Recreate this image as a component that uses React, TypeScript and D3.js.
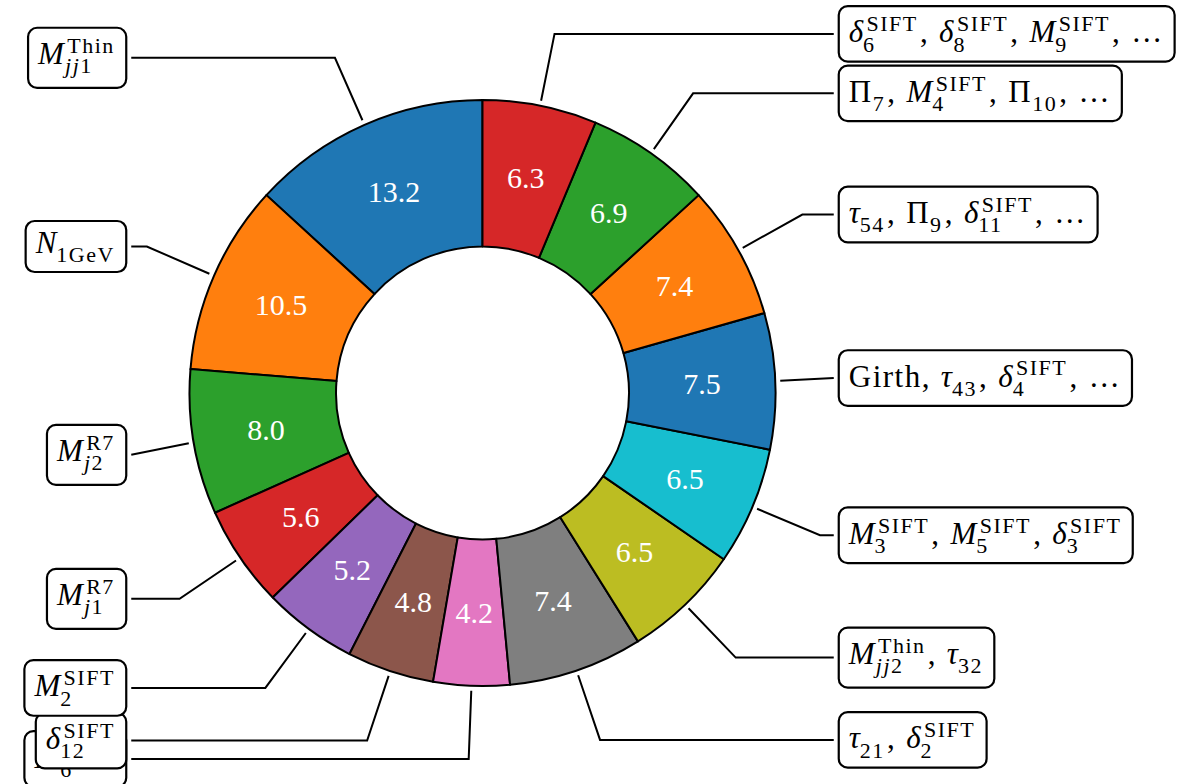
import React, { useEffect, useRef } from "react";
import * as d3 from "d3";

// Wedge values (percent), matplotlib order: counterclockwise from 12 o'clock
const values = [13.2, 10.5, 8.0, 5.6, 5.2, 4.8, 4.2, 7.4, 6.5, 6.5, 7.5, 7.4, 6.9, 6.3];
const valueLabels = ["13.2", "10.5", "8.0", "5.6", "5.2", "4.8", "4.2", "7.4", "6.5", "6.5", "7.5", "7.4", "6.9", "6.3"];
const colors = [
  "#1f77b4", "#ff7f0e", "#2ca02c", "#d62728", "#9467bd", "#8c564b", "#e377c2",
  "#7f7f7f", "#bcbd22", "#17becf", "#1f77b4", "#ff7f0e", "#2ca02c", "#d62728",
];
const labels = [
  "M_{jj1}^{Thin}",
  "N_{1GeV}",
  "M_{j2}^{R7}",
  "M_{j1}^{R7}",
  "M_{2}^{SIFT}",
  "δ_{12}^{SIFT}",
  "M_{6}^{SIFT}",
  "τ_{21}, δ_{2}^{SIFT}",
  "M_{jj2}^{Thin}, τ_{32}",
  "M_{3}^{SIFT}, M_{5}^{SIFT}, δ_{3}^{SIFT}",
  "Girth, τ_{43}, δ_{4}^{SIFT}, …",
  "τ_{54}, Π_{9}, δ_{11}^{SIFT}, …",
  "Π_{7}, M_{4}^{SIFT}, Π_{10}, …",
  "δ_{6}^{SIFT}, δ_{8}^{SIFT}, M_{9}^{SIFT}, …",
];

const FONT = "'Liberation Serif', 'DejaVu Serif', serif";
const W = 1194;
const H = 784;

type Seg = { t: string; it: boolean };

function parseTerm(term: string) {
  const m = term.match(/^([^_^]+)(?:_\{([^}]*)\})?(?:\^\{([^}]*)\})?$/);
  if (!m) return { base: term, sub: "", sup: "" };
  return { base: m[1], sub: m[2] || "", sup: m[3] || "" };
}

function baseItalic(b: string) {
  return b.length === 1 && /[A-Za-zα-ω]/.test(b);
}

export default function App() {
  const ref = useRef<SVGSVGElement | null>(null);

  useEffect(() => {
    const svg = d3.select(ref.current);
    svg.selectAll("*").remove();
    const cx = 482.5, cy = 393, R = 293, r0 = 146.5;
    const PF = 30; // percentage font
    const F = 31, SF = 22, PAD = 10;
    const LS = 1.5, SLS = 1.5;

    const pie = d3.pie<number>().sort(null).startAngle(0).endAngle(-2 * Math.PI);
    const arcs = pie(values);
    const arcGen = d3.arc<d3.PieArcDatum<number>>().innerRadius(r0).outerRadius(R);

    const annG = svg.append("g");
    const wedgeG = svg.append("g").attr("transform", `translate(${cx},${cy})`);
    const pctG = svg.append("g").attr("transform", `translate(${cx},${cy})`);

    wedgeG
      .selectAll("path")
      .data(arcs)
      .join("path")
      .attr("d", (d) => arcGen(d) as string)
      .attr("fill", (_d, i) => colors[i])
      .attr("stroke", "#000")
      .attr("stroke-width", 2)
      .attr("stroke-linejoin", "round");

    pctG
      .selectAll("text")
      .data(arcs)
      .join("text")
      .attr("x", (d) => Math.sin((d.startAngle + d.endAngle) / 2) * R * 0.75)
      .attr("y", (d) => -Math.cos((d.startAngle + d.endAngle) / 2) * R * 0.75 + 0.34 * PF)
      .attr("text-anchor", "middle")
      .attr("font-family", FONT)
      .attr("font-size", PF)
      .attr("fill", "#fff")
      .text((_d, i) => valueLabels[i]);

    const addRun = (g: any, x: number, y: number, size: number, segs: Seg[], ls: number) => {
      const t = g
        .append("text")
        .attr("x", x)
        .attr("y", y)
        .attr("font-size", size)
        .attr("font-family", FONT)
        .attr("letter-spacing", ls)
        .attr("fill", "#000");
      segs.forEach((s) => t.append("tspan").attr("font-style", s.it ? "italic" : "normal").text(s.t));
      return (t.node() as SVGTextElement).getComputedTextLength();
    };

    const order = d3.range(values.length).reverse();
    order.forEach((i) => {
      const d = arcs[i];
      const a = (d.startAngle + d.endAngle) / 2;
      const s = Math.sin(a), c = Math.cos(a);
      const side = s >= 0 ? 1 : -1;
      const ax = cx + side * 1.25 * R;
      const ay = cy - 1.25 * R * c;

      const g = annG.append("g");
      const lineG = g.append("g");
      const boxG = g.append("g");
      const textG = boxG.append("g");

      const terms = labels[i].split(", ").map(parseTerm);
      let cur = 0;
      let hasSup = false, hasSub = false, subJ = false;
      const hasComma = terms.length > 1;
      terms.forEach((tm, k) => {
        const it = baseItalic(tm.base);
        const isDots = tm.base === "…";
        const bw = addRun(textG, cur, 0, F, [{ t: tm.base, it }], isDots ? 0 : LS);
        let end = cur + bw + (isDots ? 0.1 * F : 0);
        let sw = 0, pw = 0;
        if (tm.sub) {
          hasSub = true;
          if (tm.sub.includes("j")) subJ = true;
          const segs: Seg[] = [];
          for (const ch of tm.sub) {
            const isIt = ch === "j";
            const last = segs[segs.length - 1];
            if (last && last.it === isIt) last.t += ch;
            else segs.push({ t: ch, it: isIt });
          }
          const sx = end - (it ? 0.05 * F : 0) + (tm.sub.startsWith("j") ? 0.04 * F : 0);
          sw = addRun(textG, sx, 0.3 * F, SF, segs, SLS) + (sx - end);
        }
        if (tm.sup) {
          hasSup = true;
          const px = end + (it ? 0.06 * F : 0.01 * F);
          pw = addRun(textG, px, -0.36 * F, SF, [{ t: tm.sup, it: false }], SLS) + (px - end);
        }
        end += Math.max(sw, pw, 0);
        if (tm.sub || tm.sup) end += 0.07 * F;
        cur = end;
        if (k < terms.length - 1) {
          const cw = addRun(textG, cur, 0, F, [{ t: ",", it: false }], LS);
          cur += cw + 0.32 * F;
        }
      });
      const tw = cur - LS * 0.5;
      const T = hasSup ? 0.36 * F + 0.69 * SF : 0.7 * F;
      let B = hasSub ? 0.3 * F + (subJ ? 0.2 * SF : 0) : hasComma ? 0.2 * F : 0.05 * F;
      if (hasComma && B < 0.2 * F) B = 0.2 * F;
      const textX = side === 1 ? ax : ax - tw;
      const baseline = ay + (T - B) / 2;
      textG.attr("transform", `translate(${textX},${baseline})`);

      const bx0 = textX - PAD, bx1 = textX + tw + PAD;
      const by0 = ay - (T + B) / 2 - PAD, by1 = ay + (T + B) / 2 + PAD;
      boxG
        .insert("rect", ":first-child")
        .attr("x", bx0)
        .attr("y", by0)
        .attr("width", bx1 - bx0)
        .attr("height", by1 - by0)
        .attr("rx", 9)
        .attr("ry", 9)
        .attr("fill", "#fff")
        .attr("stroke", "#000")
        .attr("stroke-width", 2.2);

      // connector: radial from wedge edge, then horizontal to box
      const px = cx + (R + 5) * s, py = cy - (R + 5) * c;
      const endX = side === 1 ? bx0 - 5 : bx1 + 5;
      let ex = px;
      if (Math.abs(c) > 1e-6) {
        const t = (py - ay) / c;
        ex = px + Math.max(0, t) * s;
      }
      if (side === 1) ex = Math.min(ex, endX);
      else ex = Math.max(ex, endX);
      const pts: [number, number][] = [[px, py], [ex, ay], [endX, ay]];
      lineG
        .append("path")
        .attr("d", d3.line()(pts) as string)
        .attr("fill", "none")
        .attr("stroke", "#000")
        .attr("stroke-width", 2);
    });
  }, []);

  return (
    <svg
      ref={ref}
      width={W}
      height={H}
      viewBox={`0 0 ${W} ${H}`}
      style={{ position: "absolute", left: 0, top: 0, background: "#fff" }}
    />
  );
}
